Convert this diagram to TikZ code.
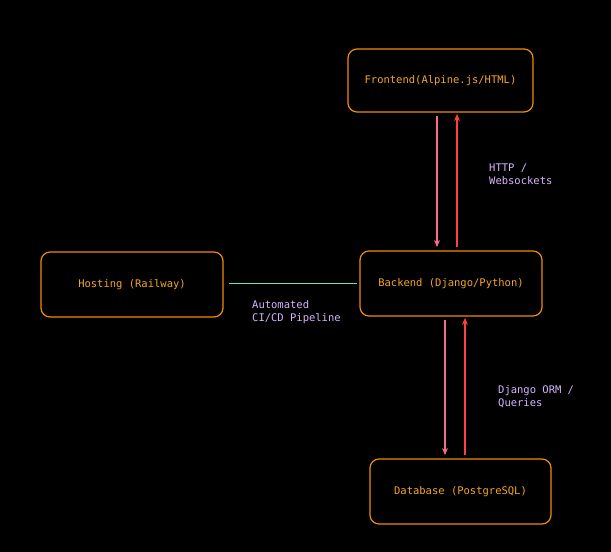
\documentclass[tikz,border=0pt]{standalone}
\usepackage{fontspec}
\setmonofont{DejaVu Sans Mono}
\usetikzlibrary{arrows.meta}
\definecolor{orng}{HTML}{F08C00}
\definecolor{txto}{HTML}{F5A623}
\definecolor{lav}{HTML}{D8B4FE}
\definecolor{pinkA}{HTML}{F06595}
\definecolor{redA}{HTML}{E8590C}
\definecolor{grn}{HTML}{63E6BE}
\begin{document}
\begin{tikzpicture}[x=1pt,y=-1pt,
  box/.style={draw=orng,line width=1.2pt,rounded corners=9pt,text=txto,font=\ttfamily\fontsize{10.5}{12}\selectfont,inner sep=0pt},
  lab/.style={text=lav,font=\ttfamily\fontsize{10.5}{13}\selectfont,align=left,anchor=north west,inner sep=0pt},
  arr/.style={line width=1.1pt,-{Stealth[length=7pt,width=6pt]}}]
\fill[black] (0,0) rectangle (611,552);
\useasboundingbox (0,0) rectangle (611,552);
\node[box,minimum width=185pt,minimum height=63pt] (fe) at (440.5,80.5) {Frontend(Alpine.js/HTML)};
\node[box,minimum width=182pt,minimum height=65pt] (be) at (451,283.5) {Backend (Django/Python)};
\node[box,minimum width=182pt,minimum height=65pt] (ho) at (132,284.5) {Hosting (Railway)};
\node[box,minimum width=181pt,minimum height=65pt] (db) at (460.5,491.5) {Database (PostgreSQL)};
\coordinate (a1) at (437,116); \coordinate (a2) at (437,247);
\coordinate (b1) at (457,247); \coordinate (b2) at (457,114);
\coordinate (c1) at (445,320); \coordinate (c2) at (445,455);
\coordinate (d1) at (465,455); \coordinate (d2) at (465,318);
\draw[arr,draw=pinkA!70!red!80!white] (a1) -- (a2);
\draw[arr,draw=red!75!white] (b1) -- (b2);
\draw[arr,draw=pinkA!70!red!80!white] (c1) -- (c2);
\draw[arr,draw=red!75!white] (d1) -- (d2);
\draw[grn,line width=1.2pt] (ho.east) ++(5,-1) -- ([xshift=-2pt]be.west);
\node[lab] (l1) at (489,164) {HTTP /\\Websockets};
\node[lab] (l2) at (252,300) {Automated\\CI/CD Pipeline};
\node[lab] (l3) at (498,385) {Django ORM /\\Queries};
\end{tikzpicture}
\end{document}
